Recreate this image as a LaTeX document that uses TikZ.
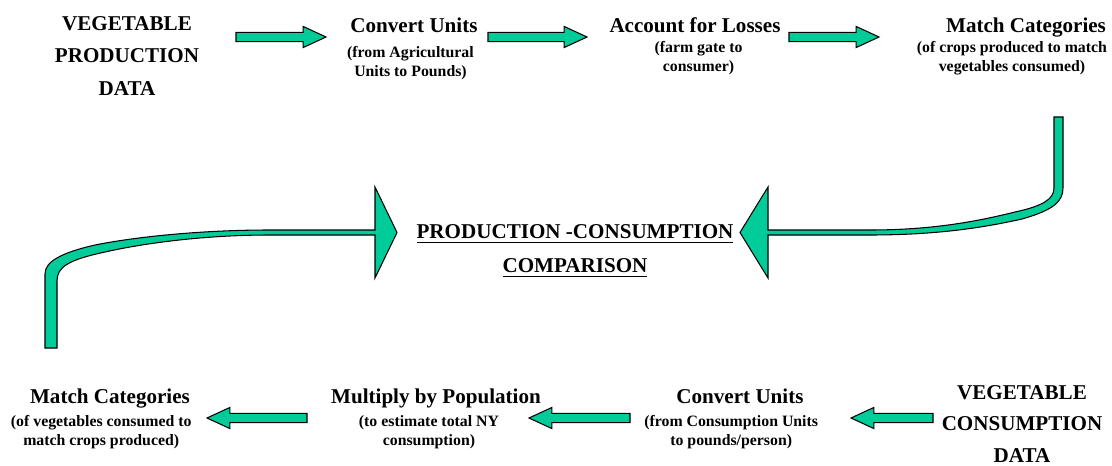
\documentclass[tikz,border=0pt]{standalone}
\usepackage{fontspec}
\setmainfont{Liberation Serif}
\usetikzlibrary{calc,positioning}

\definecolor{arrowgreen}{RGB}{0,204,153}
\newcommand{\ulbar}[1]{\vtop{\hbox{#1}\kern1.5pt\hrule height 0.8pt}}

\tikzset{
  big/.style={font=\fontsize{12}{18.5}\selectfont\bfseries, align=center, inner sep=0pt},
  steptitle/.style={font=\fontsize{12}{14}\selectfont\bfseries, inner sep=0pt, text height=8pt, text depth=0pt},
  stepnote/.style={font=\fontsize{9}{10.8}\selectfont\bfseries, align=center, inner sep=0pt},
  blockarrow/.style={draw=black, line width=0.6pt, fill=arrowgreen,
    to path={let \p1=(\tikztostart), \p2=(\tikztotarget),
      \p3=($(\tikztotarget)!13pt!(\tikztostart)$) in
      (\x1,\y1+2.6pt) -- (\x3,\y1+2.6pt) -- (\x3,\y1+6pt) -- (\x2,\y1)
      -- (\x3,\y1-6pt) -- (\x3,\y1-2.6pt) -- (\x1,\y1-2.6pt) -- cycle}},
  bentarrow/.style={draw=black, line width=0.6pt, fill=arrowgreen, line join=miter}
}

\begin{document}
\begin{tikzpicture}[x=0.02cm, y=-0.02cm, node distance=6.5pt]
\useasboundingbox (0,0) rectangle (1112,466);

% production side (top row)
\node (prod) [big] at (127,56) {VEGETABLE\\PRODUCTION\\DATA};
\node (conv1) [steptitle] at (414,25) {Convert Units};
\node (conv1note) [stepnote, below=8pt of conv1, xshift=-2pt] {(from Agricultural\\Units to Pounds)};
\node (loss) [steptitle] at (695,25) {Account for Losses};
\node (lossnote) [stepnote, below=5.2pt of loss, xshift=2pt] {(farm gate to\\consumer)};
\node (match1) [steptitle] at (1026,25) {Match Categories};
\node (match1note) [stepnote, below=5.2pt of match1, xshift=-8pt] {(of crops produced to match\\vegetables consumed)};

% consumption side (bottom row)
\node (cons) [big, font=\fontsize{12}{18}\selectfont\bfseries] at (1022,424) {VEGETABLE\\CONSUMPTION\\DATA};
\node (conv2) [steptitle] at (740,396) {Convert Units};
\node (conv2note) [stepnote, below=of conv2, xshift=-5pt] {(from Consumption Units\\to pounds/person)};
\node (mult) [steptitle] at (436,396) {Multiply by Population};
\node (multnote) [stepnote, below=of mult, xshift=-4pt] {(to estimate total NY\\consumption)};
\node (match2) [steptitle] at (110,396) {Match Categories};
\node (match2note) [stepnote, below=of match2, xshift=-5pt] {(of vegetables consumed to\\match crops produced)};

% comparison
\node (cmp) [big, font=\fontsize{12}{19.4}\selectfont\bfseries] at (575,251)
  {\ulbar{PRODUCTION -CONSUMPTION}\\\ulbar{COMPARISON}};

% arrow ends
\coordinate (a1s) at (236,37);  \coordinate (a1e) at (326,37);
\coordinate (a2s) at (488,37);  \coordinate (a2e) at (587,37);
\coordinate (a3s) at (789,37);  \coordinate (a3e) at (879,37);
\coordinate (b1s) at (933,418); \coordinate (b1e) at (851,418);
\coordinate (b2s) at (630,418); \coordinate (b2e) at (529,418);
\coordinate (b3s) at (307,418); \coordinate (b3e) at (207,418);

\draw [blockarrow] (a1s) to (a1e);
\draw [blockarrow] (a2s) to (a2e);
\draw [blockarrow] (a3s) to (a3e);
\draw [blockarrow] (b1s) to (b1e);
\draw [blockarrow] (b2s) to (b2e);
\draw [blockarrow] (b3s) to (b3e);

% bent arrows into the comparison
\draw [bentarrow] (1054,117) -- (1054,188)
  .. controls (1054,199) and (1043,206) .. (1015,212)
  .. controls (975,222) and (930,230) .. (870,230)
  -- (768,230) -- (768,187) -- (740,232.5) -- (768,278) -- (768,235)
  -- (870,235) .. controls (935,235) and (982,228) .. (1022,219)
  .. controls (1054,210) and (1063,201) .. (1063,188) -- (1063,117) -- cycle;
\draw [bentarrow] (45,348) -- (45,274)
  .. controls (45,262) and (60,253) .. (95,245)
  .. controls (135,237) and (200,230) .. (270,230)
  -- (375,230) -- (375,187) -- (397,232.5) -- (375,278) -- (375,235)
  -- (270,235) .. controls (205,235) and (145,243) .. (105,252)
  .. controls (68,260) and (57,267) .. (57,281) -- (57,348) -- cycle;
\end{tikzpicture}
\end{document}
